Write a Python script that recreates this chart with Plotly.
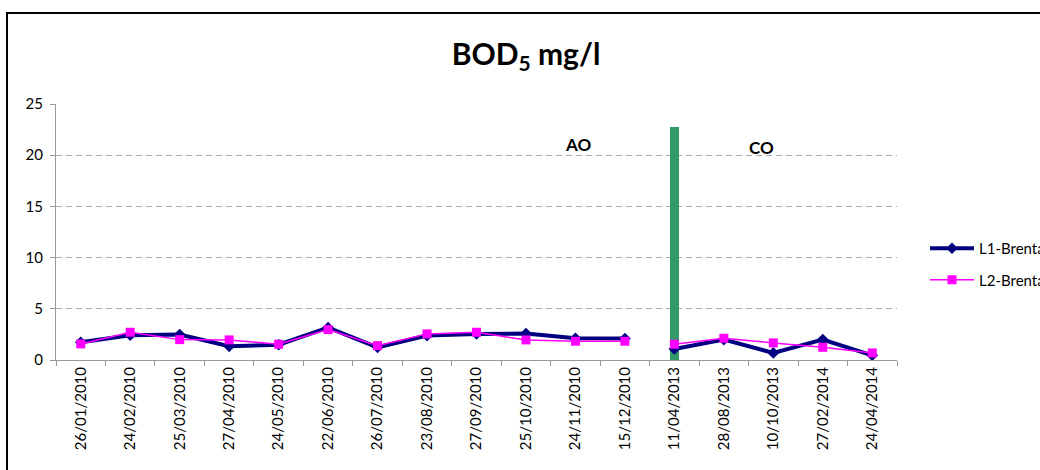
import plotly.graph_objects as go

dates = ["26/01/2010", "24/02/2010", "25/03/2010", "27/04/2010", "24/05/2010",
         "22/06/2010", "26/07/2010", "23/08/2010", "27/09/2010", "25/10/2010",
         "24/11/2010", "15/12/2010", "11/04/2013", "28/08/2013", "10/10/2013",
         "27/02/2014", "24/04/2014"]
l1_brenta = [1.73, 2.42, 2.48, 1.34, 1.50, 3.17, 1.24, 2.39, 2.55, 2.58,
             2.12, 2.09, 1.08, 1.99, 0.69, 1.99, 0.46]
l2_brenta = [1.57, 2.71, 1.99, 1.96, 1.54, 2.97, 1.40, 2.55, 2.71, 1.96,
             1.83, 1.83, 1.54, 2.12, 1.67, 1.24, 0.69]
split_index = 12          # first sample of the second period
separator_value = 22.8
phase_labels = ["AO", "CO"]

FONT = "Lato, 'Open Sans', sans-serif"

W, H = 1040, 470
L, R, T, B = 56, 143, 104, 110
PW, PH = W - L - R, H - T - B

fig = go.Figure()

fig.add_trace(go.Bar(
    x=[dates[split_index]], y=[separator_value], width=0.17,
    marker=dict(color="#339966", line=dict(width=0)), showlegend=False,
    hoverinfo="skip"))

periods = [(0, split_index), (split_index, len(dates))]
for name, vals, color, lw, sym, msize in [
        ("L1-Brenta", l1_brenta, "#000080", 4, "diamond", 9),
        ("L2-Brenta", l2_brenta, "#FF00FF", 1.5, "square", 9)]:
    for k, (a, b) in enumerate(periods):
        fig.add_trace(go.Scatter(
            x=dates[a:b], y=vals[a:b], name=name, legendgroup=name,
            showlegend=(k == 0), mode="lines+markers",
            line=dict(color=color, width=lw),
            marker=dict(color=color, symbol=sym, size=msize)))

fig.add_annotation(x=10.05, y=21.0, text="<b>%s</b>" % phase_labels[0], showarrow=False,
                   font=dict(family=FONT, size=17, color="black"))
fig.add_annotation(x=13.76, y=20.8, text="<b>%s</b>" % phase_labels[1], showarrow=False,
                   font=dict(family=FONT, size=17, color="black"))

# chart border (left edge at x=7, top at y=13, runs off the right and bottom)
fig.add_shape(type="rect", xref="paper", yref="paper",
              x0=(7 - L) / PW, x1=1.4, y0=-0.6, y1=(H - B - 13) / PH,
              line=dict(color="black", width=2), fillcolor="rgba(0,0,0,0)")

fig.update_layout(
    width=W, height=H,
    margin=dict(l=L, r=R, t=T, b=B, autoexpand=False),
    paper_bgcolor="white", plot_bgcolor="white",
    font=dict(family=FONT, color="black"),
    title=dict(text="<b>BOD<sub>5</sub> mg/l</b>", x=526 / W, xanchor="center",
               y=1 - 54 / H, yanchor="middle", yref="container",
               font=dict(family=FONT, size=30, color="black")),
    showlegend=True,
    legend=dict(x=(925 - L) / PW, y=(H - B - 232) / PH, xanchor="left", yanchor="top",
                traceorder="grouped", tracegroupgap=9, itemwidth=44,
                font=dict(family=FONT, size=15, color="black"),
                bgcolor="rgba(0,0,0,0)"),
    bargap=0,
)

fig.update_xaxes(type="category", categoryorder="array", categoryarray=dates,
                 tickangle=-90, tickson="boundaries", ticks="outside", ticklen=5,
                 tickcolor="#999999", showline=True, linecolor="#999999", linewidth=1,
                 showgrid=False, tickfont=dict(family=FONT, size=15, color="black"),
                 range=[-0.5, len(dates) - 0.5])
fig.update_yaxes(range=[0, 25], tickvals=[0, 5, 10, 15, 20, 25], ticks="outside",
                 ticklen=5, tickcolor="#999999", showline=True, linecolor="#999999",
                 linewidth=1, showgrid=True, gridcolor="#AAAAAA", griddash="6px,4px",
                 gridwidth=1, zeroline=False, ticklabelstandoff=4,
                 tickfont=dict(family=FONT, size=15, color="black"))

fig.write_html("out.html", config={"displayModeBar": False},
               post_script="document.body.style.margin='0';"
                           "document.body.style.overflow='hidden';")
